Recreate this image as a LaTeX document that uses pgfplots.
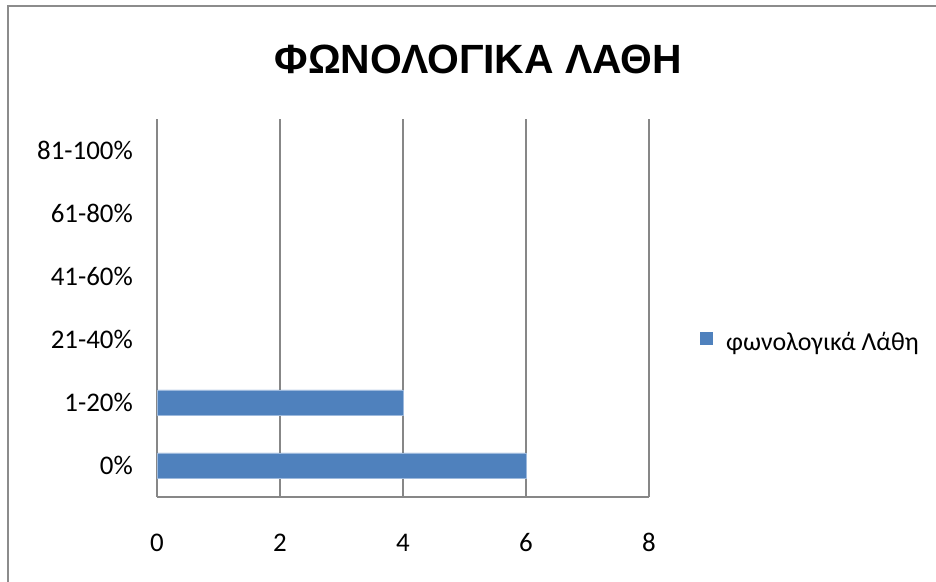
\documentclass[border=0pt]{standalone}
\usepackage{pgfplots}
\usepackage{pgfplotstable}
\pgfplotsset{compat=1.18}
\usepackage{fontspec}
\setmainfont{Carlito}
\newfontfamily\titlefont{Liberation Sans}

\definecolor{barblue}{HTML}{4F81BD}
\definecolor{baredge}{HTML}{9DB9DC}
\definecolor{gridgray}{HTML}{878787}
\definecolor{framegray}{HTML}{8C8C8C}

% number of pupils per error-rate band
\pgfplotstableread{
idx value
0 6
1 4
2 0
3 0
4 0
5 0
}\errortable

\begin{document}
\begin{tikzpicture}[x=1bp,y=1bp]
\path[use as bounding box] (0,0) rectangle (936,582);
% chart frame
\draw[framegray, line width=2bp] (8,-2) -- (8,576) -- (940,576);
% title
\node[anchor=base, inner sep=0pt, font=\titlefont\bfseries\fontsize{41}{48}\selectfont]
  at (478.4,508.7) {ΦΩΝΟΛΟΓΙΚΑ ΛΑΘΗ};
\begin{axis}[
  at={(157bp,85bp)}, anchor=south west,
  scale only axis, width=492bp, height=378bp,
  xbar, bar width=25bp,
  xmin=0, xmax=8, ymin=-0.5, ymax=5.5,
  xtick={0,2,4,6,8}, ytick={0,1,2,3,4,5},
  yticklabels={0\%,1-20\%,21-40\%,41-60\%,61-80\%,81-100\%},
  major tick length=0pt,
  axis lines*=left,
  axis line style={gridgray, line width=2.2bp},
  xmajorgrids,
  major grid style={gridgray, line width=1.8bp},
  tick label style={font=\fontsize{27}{32}\selectfont},
  /pgf/number format/assume math mode=true,
  xticklabel style={anchor=base, yshift=-54.5bp, inner sep=0pt},
  yticklabel style={anchor=east, xshift=-24bp, inner sep=0pt},
  legend style={at={(1.1037,0.41)}, anchor=west, draw=none, fill=none,
    inner sep=0pt, font=\fontsize{26}{31}\selectfont},
  legend cell align=left,
  legend image code/.code={%
    \path[draw=none, fill=none] (0bp,0bp) -- (24bp,0bp);
    \fill[barblue, draw=none] (0bp,-2.5bp) rectangle (13bp,10.5bp);},
  restrict x to domain=0.001:100,
]
\addplot[fill=barblue, draw=baredge, line width=0.8bp] table[x=value, y=idx] {\errortable};
\addlegendentry{φωνολογικά Λάθη}
\end{axis}
\end{tikzpicture}
\end{document}
